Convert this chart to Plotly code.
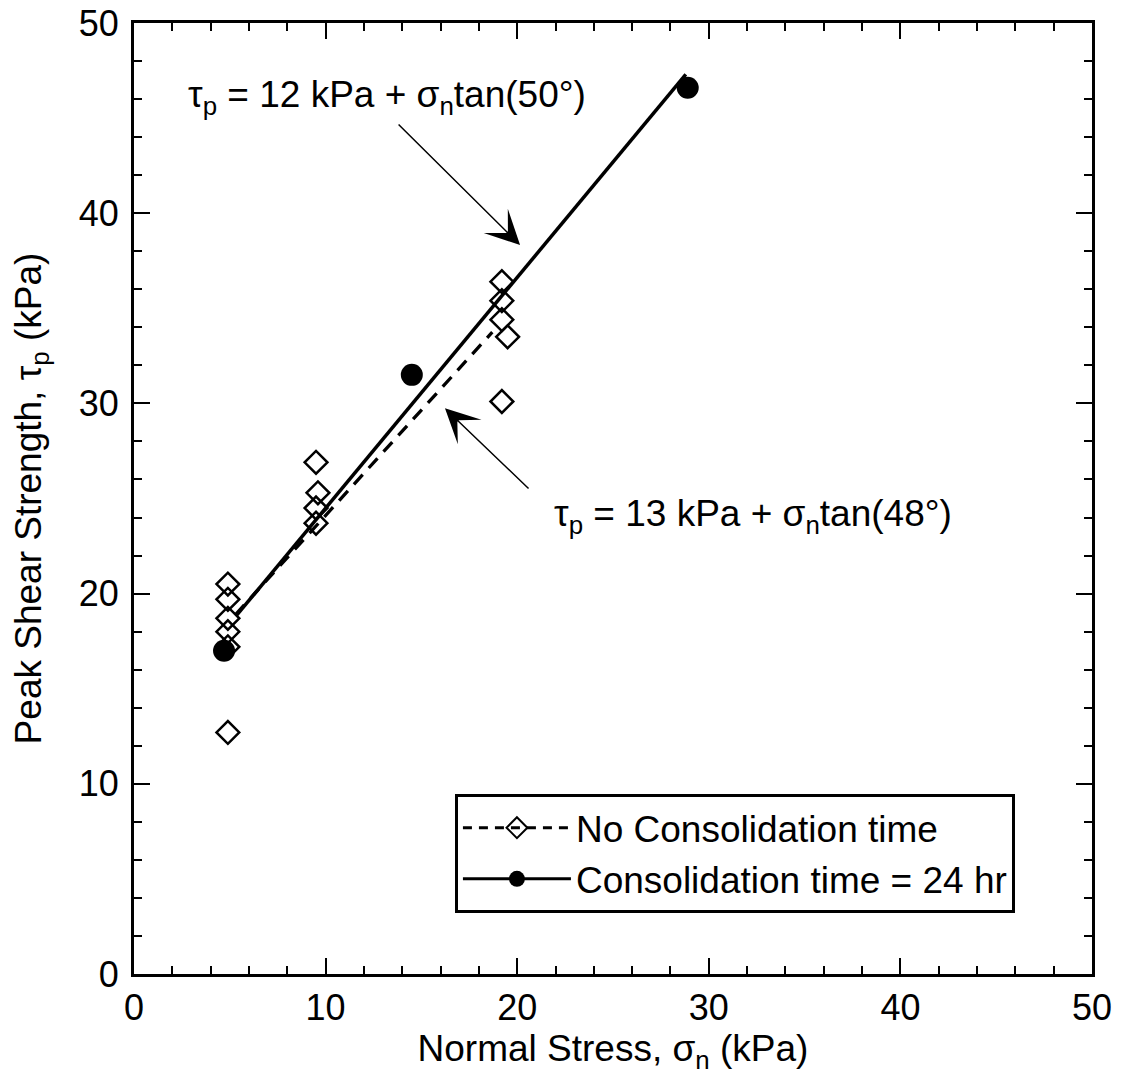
import plotly.graph_objects as go

# ---- data ----
nocons_sigma = [4.9, 4.9, 4.9, 4.9, 4.9, 4.9, 9.5, 9.6, 9.5, 9.5, 19.2, 19.2, 19.2, 19.5, 19.2]
nocons_tau = [20.5, 19.7, 18.7, 18.0, 17.2, 12.7, 26.9, 25.3, 24.5, 23.7, 36.4, 35.4, 34.4, 33.5, 30.1]

cons_sigma = [4.7, 14.5, 28.9]
cons_tau = [17.0, 31.5, 46.6]

fit_nocons_sigma = [5.3, 18.7]
fit_nocons_tau = [18.9, 33.75]

fit_cons_sigma = [5.35, 28.8]
fit_cons_tau = [18.85, 47.3]

x_ticks = [0, 10, 20, 30, 40, 50]
y_ticks = [0, 10, 20, 30, 40, 50]

FONT = "Liberation Sans, Arial, sans-serif"
FS_TICK = 36
FS = 37

fig = go.Figure()

fig.add_trace(go.Scatter(x=fit_nocons_sigma, y=fit_nocons_tau, mode="lines",
                         line=dict(color="black", width=3.3, dash="13px,9px"),
                         showlegend=False, hoverinfo="skip"))
fig.add_trace(go.Scatter(x=fit_cons_sigma, y=fit_cons_tau, mode="lines",
                         line=dict(color="black", width=3.5),
                         showlegend=False, hoverinfo="skip"))
fig.add_trace(go.Scatter(x=nocons_sigma, y=nocons_tau, mode="markers",
                         marker=dict(symbol="diamond-open", size=17.5, color="black",
                                     line=dict(width=2.5, color="black")),
                         showlegend=False))
fig.add_trace(go.Scatter(x=cons_sigma, y=cons_tau, mode="markers",
                         marker=dict(symbol="circle", size=22, color="black"),
                         showlegend=False))

# legend proxies
fig.add_trace(go.Scatter(x=[None], y=[None], mode="lines+markers",
                         name="No Consolidation time",
                         line=dict(color="black", width=3, dash="9px,7px"),
                         marker=dict(symbol="diamond-open", size=16, color="black",
                                     line=dict(width=2, color="black"))))
fig.add_trace(go.Scatter(x=[None], y=[None], mode="lines+markers",
                         name="Consolidation time = 24 hr",
                         line=dict(color="black", width=3),
                         marker=dict(symbol="circle", size=16, color="black")))

axis_common = dict(
    range=[0, 50], tickmode="array", ticks="inside", ticklen=16, tickwidth=2,
    tickcolor="black", showline=True, linewidth=3, linecolor="black",
    mirror="allticks", showgrid=False, zeroline=False, automargin=False,
    minor=dict(ticks="inside", dtick=2, ticklen=8, tickwidth=2, tickcolor="black", showgrid=False),
    tickfont=dict(size=FS_TICK, family=FONT, color="black"),
)

fig.update_xaxes(**axis_common, tickvals=x_ticks, ticktext=[str(v) for v in x_ticks],
                 ticklabelstandoff=0,
                 title=dict(text="Normal Stress, σ<sub>n</sub> (kPa)", standoff=8,
                            font=dict(size=FS, family=FONT, color="black")))
fig.update_yaxes(**axis_common, tickvals=y_ticks, ticktext=[str(v) for v in y_ticks],
                 ticklabelstandoff=5,
                 title=dict(text="Peak Shear Strength, τ<sub>p</sub> (kPa)", standoff=26,
                            font=dict(size=FS, family=FONT, color="black")))

annot_font = dict(size=FS, family=FONT, color="black")
fig.update_layout(
    width=1121, height=1086,
    margin=dict(l=134, r=29, t=23, b=112),
    plot_bgcolor="white", paper_bgcolor="white",
    font=dict(family=FONT, size=FS, color="black"),
    legend=dict(x=0.335, y=0.064, xanchor="left", yanchor="bottom",
                bordercolor="black", borderwidth=3, bgcolor="white",
                font=dict(size=FS, family=FONT, color="black"),
                itemwidth=108, tracegroupgap=0),
    annotations=[
        dict(x=2.7, y=46.1, xref="x", yref="y", xanchor="left", yanchor="middle",
             text="τ<sub>p</sub> = 12 kPa + σ<sub>n</sub>tan(50°)", showarrow=False,
             font=annot_font),
        dict(x=21.8, y=24.1, xref="x", yref="y", xanchor="left", yanchor="middle",
             text="τ<sub>p</sub> = 13 kPa + σ<sub>n</sub>tan(48°)", showarrow=False,
             font=annot_font),
        dict(x=20.15, y=38.33, xref="x", yref="y", ax=13.73, ay=44.74, axref="x", ayref="y",
             text="", showarrow=True, arrowhead=3, arrowsize=3.8, arrowwidth=1.5,
             arrowcolor="black"),
        dict(x=16.23, y=29.74, xref="x", yref="y", ax=20.67, ay=25.45, axref="x", ayref="y",
             text="", showarrow=True, arrowhead=3, arrowsize=3.8, arrowwidth=1.5,
             arrowcolor="black"),
    ],
)

fig.write_html("out.html")
